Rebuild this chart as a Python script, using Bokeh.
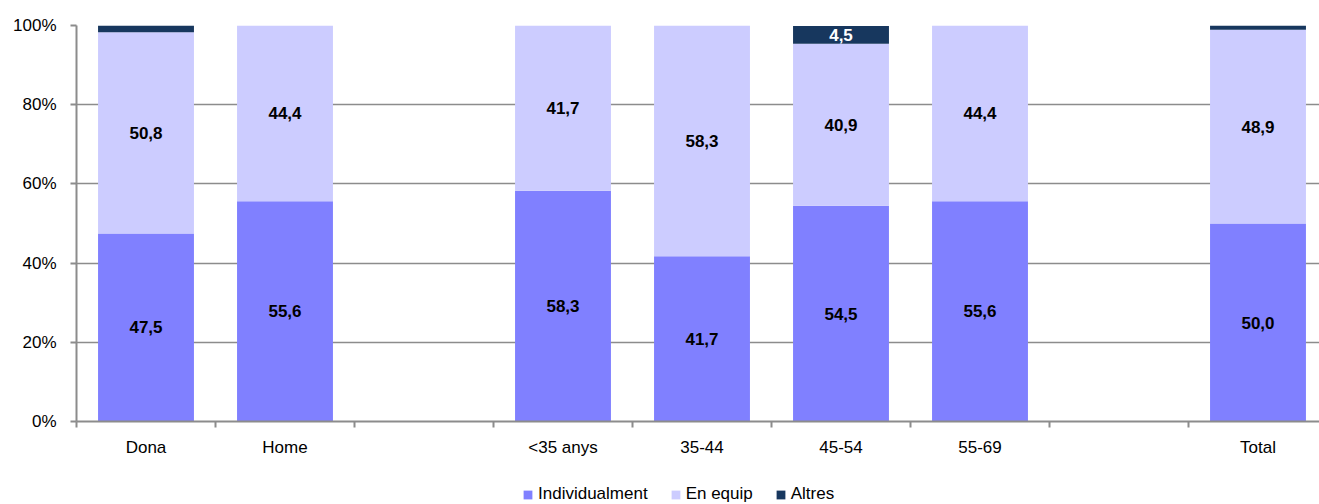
from bokeh.plotting import figure
from bokeh.models import ColumnDataSource, FixedTicker, Legend, LegendItem, Range1d
from bokeh.layouts import column
from bokeh.core.properties import value
from bokeh.embed import file_html
from bokeh.resources import INLINE

categories = ["Dona", "Home", "", "<35 anys", "35-44", "45-54", "55-69", "", "Total"]
individualment = [47.5, 55.6, 0, 58.3, 41.7, 54.5, 55.6, 0, 50.0]
en_equip = [50.8, 44.4, 0, 41.7, 58.3, 40.9, 44.4, 0, 48.9]
altres = [1.7, 0, 0, 0, 0, 4.5, 0, 0, 1.1]
series_names = ["Individualment", "En equip", "Altres"]
colors = ["#8080FF", "#CCCCFF", "#17375E"]
label_colors = ["black", "black", "white"]
y_ticks = [0, 20, 40, 60, 80, 100]

FONT = "Liberation Sans"
FS = "17px"

x = [i + 0.5 for i in range(len(categories))]
src = ColumnDataSource(dict(x=x, ind=individualment, eq=en_equip, alt=altres))

p = figure(width=1319, height=459, output_backend="svg", toolbar_location=None,
           x_range=Range1d(0, 1243 / 139.0), y_range=Range1d(0, 100),
           min_border_left=76, min_border_right=0, min_border_top=25, min_border_bottom=0)
p.outline_line_color = None
p.background_fill_color = "white"
p.border_fill_color = "white"

renderers = p.vbar_stack(["ind", "eq", "alt"], x="x", width=0.69, color=colors,
                         line_color=None, source=src)

# value labels
stacks = [individualment, en_equip, altres]
for si, vals in enumerate(stacks):
    lx, ly, lt = [], [], []
    for i, v in enumerate(vals):
        if v >= 2:
            base = sum(stacks[k][i] for k in range(si))
            lx.append(x[i])
            ly.append(base + v / 2.0)
            lt.append(("%.1f" % v).replace(".", ","))
    p.text(x=lx, y=ly, text=lt, text_align="center", text_baseline="middle",
           text_font=value(FONT), text_font_size=FS, text_font_style="bold",
           text_color=label_colors[si])

# grid
p.xgrid.visible = False
p.ygrid.ticker = FixedTicker(ticks=y_ticks)
p.ygrid.grid_line_color = "#8c8c8c"
p.ygrid.grid_line_width = 1.5

# y axis
p.yaxis.ticker = FixedTicker(ticks=y_ticks)
p.yaxis.major_label_overrides = {t: "%d%%" % t for t in y_ticks}
p.yaxis.axis_line_color = "#8c8c8c"
p.yaxis.axis_line_width = 2
p.yaxis.major_tick_line_color = "#8c8c8c"
p.yaxis.major_tick_line_width = 2
p.yaxis.major_tick_out = 6
p.yaxis.major_tick_in = 0
p.yaxis.minor_tick_line_color = None
p.yaxis.major_label_standoff = 14
p.yaxis.major_label_text_font = FONT
p.yaxis.major_label_text_font_size = FS
p.yaxis.major_label_text_color = "black"

# x axis
label_ticks = [x[i] for i, c in enumerate(categories) if c]
p.xaxis.ticker = FixedTicker(ticks=label_ticks, minor_ticks=list(range(0, len(categories) + 1)))
p.xaxis.major_label_overrides = {x[i]: c for i, c in enumerate(categories) if c}
p.xaxis.axis_line_color = "#8c8c8c"
p.xaxis.axis_line_width = 2
p.xaxis.major_tick_line_color = None
p.xaxis.major_tick_out = 0
p.xaxis.major_tick_in = 0
p.xaxis.minor_tick_line_color = "#8c8c8c"
p.xaxis.minor_tick_line_width = 2
p.xaxis.minor_tick_out = 6
p.xaxis.minor_tick_in = 0
p.xaxis.major_label_standoff = 10
p.xaxis.major_label_text_font = FONT
p.xaxis.major_label_text_font_size = FS
p.xaxis.major_label_text_color = "black"

# legend strip (separate figure below the chart); its renderers are hidden, only swatches show
lg = figure(width=1319, height=45, output_backend="svg", toolbar_location=None,
            x_range=Range1d(0, 1), y_range=Range1d(0, 1),
            x_axis_type=None, y_axis_type=None, min_border=0)
lg.outline_line_color = None
lg.xgrid.visible = False
lg.ygrid.visible = False
lg_renderers = lg.vbar_stack(["ind", "eq", "alt"], x="x", width=0.69, color=colors,
                             line_color=None, source=src)
for r in lg_renderers:
    r.visible = False
legend = Legend(items=[LegendItem(label=n, renderers=[r]) for n, r in zip(series_names, lg_renderers)],
                orientation="horizontal", location=(446, 0),
                glyph_width=11, glyph_height=11, label_text_font=FONT,
                label_text_font_size=FS, label_text_color="black",
                label_standoff=5, spacing=22, inactive_fill_alpha=0,
                border_line_color=None, background_fill_alpha=0,
                padding=0, margin=0, label_height=20)
lg.add_layout(legend, "center")

layout = column(p, lg, spacing=0)
open("out.html", "w").write(file_html(layout, INLINE))
